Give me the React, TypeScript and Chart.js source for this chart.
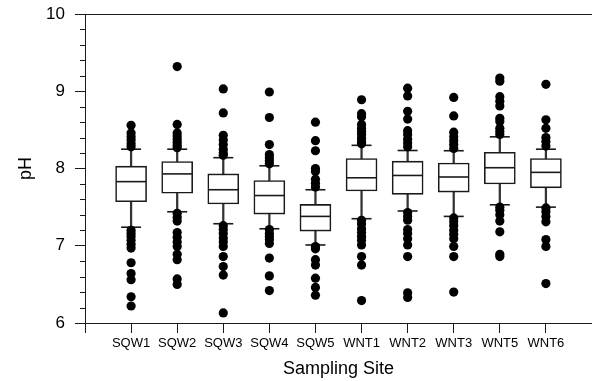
import { useEffect, useRef } from 'react';
import { Chart, registerables } from 'chart.js';

Chart.register(...registerables);

const sites = ['SQW1', 'SQW2', 'SQW3', 'SQW4', 'SQW5', 'WNT1', 'WNT2', 'WNT3', 'WNT5', 'WNT6'];

const q1 = [7.57, 7.68, 7.54, 7.41, 7.19, 7.71, 7.665, 7.695, 7.8, 7.75];
const median = [7.83, 7.93, 7.725, 7.65, 7.38, 7.88, 7.91, 7.89, 8.01, 7.95];
const q3 = [8.03, 8.09, 7.93, 7.845, 7.535, 8.13, 8.095, 8.07, 8.21, 8.13];
const whiskerLow = [7.24, 7.44, 7.285, 7.22, 7.01, 7.35, 7.45, 7.38, 7.53, 7.5];
const whiskerHigh = [8.25, 8.25, 8.14, 8.035, 7.725, 8.3, 8.233, 8.23, 8.41, 8.25];

const outliers = [
  [8.56, 8.46, 8.41, 8.37, 8.32, 8.28, 7.2, 7.16, 7.12, 7.07, 7.02, 6.97, 6.78, 6.64, 6.56, 6.34, 6.22],
  [9.32, 8.57, 8.46, 8.42, 8.38, 8.34, 8.3, 8.27, 7.42, 7.37, 7.32, 7.17, 7.11, 7.05, 6.99, 6.89, 6.82, 6.57, 6.5],
  [9.03, 8.72, 8.43, 8.37, 8.31, 8.25, 8.2, 8.17, 7.26, 7.21, 7.16, 7.1, 7.05, 6.99, 6.86, 6.73, 6.62, 6.13],
  [8.99, 8.66, 8.31, 8.18, 8.14, 8.1, 8.06, 7.21, 7.16, 7.12, 7.08, 7.03, 6.84, 6.61, 6.42],
  [8.6, 8.36, 8.23, 8.0, 7.96, 7.86, 7.81, 7.76, 6.99, 6.96, 6.82, 6.75, 6.58, 6.46, 6.36],
  [8.89, 8.71, 8.67, 8.57, 8.52, 8.48, 8.44, 8.39, 8.35, 8.32, 7.33, 7.28, 7.22, 7.17, 7.12, 7.07, 7.01, 6.86, 6.75, 6.29],
  [9.04, 8.94, 8.74, 8.64, 8.49, 8.44, 8.38, 8.33, 8.28, 7.43, 7.38, 7.33, 7.21, 7.16, 7.09, 7.01, 6.86, 6.39, 6.33],
  [8.92, 8.68, 8.47, 8.41, 8.36, 8.31, 8.26, 7.36, 7.31, 7.26, 7.2, 7.15, 7.09, 6.99, 6.86, 6.4],
  [9.17, 9.13, 8.93, 8.87, 8.81, 8.65, 8.61, 8.52, 8.48, 8.44, 7.5, 7.46, 7.4, 7.32, 7.18, 6.89, 6.86],
  [9.09, 8.63, 8.52, 8.4, 8.35, 8.29, 7.49, 7.44, 7.38, 7.31, 7.08, 6.99, 6.51],
];

const yMin = 6;
const yMax = 10;
const yMajorStep = 1;
const yMinorStep = 0.2;

const FONT = "'Liberation Sans', Arial, Helvetica, sans-serif";
const INK = '#1a1a1a';

// Short minor ticks on the pH axis plus the top frame line.
const axisExtras = {
  id: 'axisExtras',
  afterDraw(chart: any) {
    const { ctx, chartArea, scales } = chart;
    const y = scales.y;
    ctx.save();
    ctx.strokeStyle = INK;
    ctx.lineWidth = 1;
    ctx.beginPath();
    const steps = Math.round((yMax - yMin) / yMinorStep);
    for (let i = 0; i <= steps; i++) {
      const v = yMin + i * yMinorStep;
      if (Math.abs(v - Math.round(v)) < 1e-6) continue;
      const py = Math.round(y.getPixelForValue(v)) + 0.5;
      ctx.moveTo(chartArea.left - 5, py);
      ctx.lineTo(chartArea.left, py);
    }
    const top = Math.round(chartArea.top) + 0.5;
    ctx.moveTo(chartArea.left, top);
    ctx.lineTo(chartArea.right, top);
    ctx.stroke();
    ctx.restore();
  },
};

export default function App() {
  const canvasRef = useRef<HTMLCanvasElement | null>(null);

  useEffect(() => {
    document.body.style.margin = '0';
    const canvas = canvasRef.current;
    if (!canvas) return;

    const xs = sites.map((_, i) => i + 1);

    const chart = new Chart(canvas, {
      type: 'bar',
      data: {
        datasets: [
          {
            type: 'scatter',
            label: 'outliers',
            data: outliers.flatMap((vals, i) => vals.map((v) => ({ x: xs[i], y: v }))),
            pointRadius: 4.6,
            pointBackgroundColor: '#000',
            pointBorderWidth: 0,
            order: 1,
          },
          {
            type: 'scatter',
            label: 'median',
            data: xs.map((x, i) => ({ x, y: median[i] })),
            pointStyle: 'line',
            pointRadius: 15,
            pointBorderColor: INK,
            pointBorderWidth: 1.6,
            order: 2,
          },
          {
            type: 'scatter',
            label: 'caps',
            data: [
              ...xs.map((x, i) => ({ x, y: whiskerLow[i] })),
              ...xs.map((x, i) => ({ x, y: whiskerHigh[i] })),
            ],
            pointStyle: 'line',
            pointRadius: 10,
            pointBorderColor: INK,
            pointBorderWidth: 1.6,
            order: 3,
          },
          {
            type: 'bar',
            label: 'box',
            data: xs.map((x, i) => ({ x, y: [q1[i], q3[i]] })) as any,
            backgroundColor: '#fff',
            borderColor: INK,
            borderWidth: 1.6,
            borderSkipped: false,
            barThickness: 31,
            grouped: false,
            order: 4,
          },
          {
            type: 'bar',
            label: 'whisker',
            data: xs.map((x, i) => ({ x, y: [whiskerLow[i], whiskerHigh[i]] })) as any,
            backgroundColor: '#333',
            borderWidth: 0,
            barThickness: 1.6,
            grouped: false,
            order: 5,
          },
        ],
      },
      options: {
        responsive: false,
        animation: false,
        layout: { autoPadding: false, padding: { top: 14, right: 0, left: 0, bottom: 0 } },
        plugins: {
          legend: { display: false },
          tooltip: { enabled: false },
        },
        scales: {
          x: {
            type: 'linear',
            min: 0,
            max: sites.length + 1,
            offset: false,
            afterFit: (s: any) => {
              s.height = 58;
              s.paddingLeft = 0;
              s.paddingRight = 0;
            },
            border: { display: true, color: INK, width: 1 },
            grid: { display: true, drawOnChartArea: false, offset: false, tickLength: 10, color: INK },
            ticks: {
              stepSize: 1,
              autoSkip: false,
              maxRotation: 0,
              padding: 3,
              color: '#000',
              font: { family: FONT, size: 13 },
              callback: (v: any) => sites[Number(v) - 1] ?? '',
            },
            title: {
              display: true,
              text: 'Sampling Site',
              color: '#000',
              font: { family: FONT, size: 18 },
              padding: { top: 2, bottom: 1 },
            },
          },
          y: {
            type: 'linear',
            min: yMin,
            max: yMax,
            beginAtZero: false,
            afterFit: (s: any) => {
              s.width = 85;
              s.paddingTop = 0;
              s.paddingBottom = 0;
            },
            border: { display: true, color: INK, width: 1 },
            grid: { display: true, drawOnChartArea: false, tickLength: 10, color: INK },
            ticks: {
              stepSize: yMajorStep,
              padding: 10,
              color: '#000',
              font: { family: FONT, size: 17 },
            },
            title: {
              display: true,
              text: 'pH',
              color: '#000',
              font: { family: FONT, size: 18 },
              padding: { top: 15, bottom: 0 },
            },
          },
        },
      },
      plugins: [axisExtras],
    });

    return () => chart.destroy();
  }, []);

  return (
    <div style={{ width: 592, height: 381 }}>
      <canvas ref={canvasRef} width={592} height={381} style={{ display: 'block' }} />
    </div>
  );
}
